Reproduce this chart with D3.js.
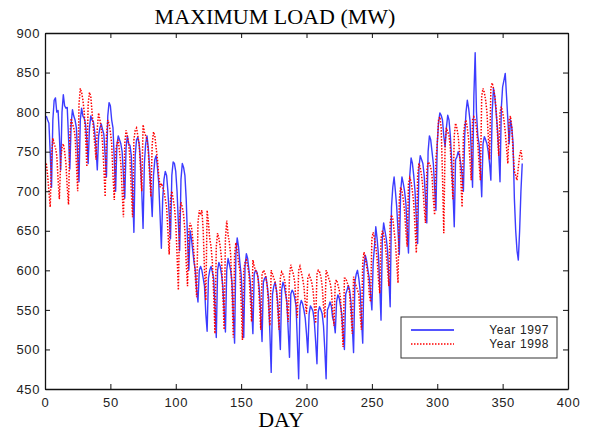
<!DOCTYPE html>
<html>
<head>
<meta charset="utf-8">
<script src="https://cdn.jsdelivr.net/npm/d3@7"></script>
<style>
  body { margin: 0; background: #fff; }
  .tick text { font-family: "Liberation Sans", Arial, sans-serif; font-size: 13px; fill: #222; letter-spacing: 0.6px; }
  .tick line, .domain { stroke: #111; }
</style>
</head>
<body>
<div id="chart"></div>
<script>
// daily maximum load (MW), day 1..365
// 1997: Jan 1 is a Wednesday -> first 5 values, then Mon..Sun weeks
const load1997 = [
  795, 790, 786, 748, 705,
  790, 815, 818, 800, 802, 770, 727,
  800, 822, 808, 805, 806, 768, 728,
  785, 803, 795, 790, 780, 745, 712,
  790, 805, 795, 792, 785, 765, 735,
  780, 795, 790, 788, 775, 755, 727,
  770, 780, 785, 778, 772, 745, 718,
  795, 812, 808, 790, 780, 740, 700,
  758, 770, 765, 760, 750, 720, 691,
  755, 770, 760, 758, 745, 700, 648,
  745, 765, 768, 760, 740, 700, 653,
  735, 760, 770, 755, 730, 700, 668,
  720, 740, 745, 730, 710, 670, 628,
  690, 715, 725, 720, 700, 670, 640,
  720, 737, 735, 725, 700, 660, 625,
  715, 735, 730, 720, 690, 640, 600,
  650, 640, 625, 610, 600, 575, 560,
  600, 605, 600, 590, 580, 545, 523,
  590, 600, 605, 598, 590, 555, 515,
  600, 610, 605, 595, 580, 550, 522,
  600, 615, 608, 600, 585, 545, 508,
  620, 641, 630, 610, 595, 560, 515,
  605, 621, 615, 600, 585, 555, 520,
  595, 600, 598, 590, 575, 545, 510,
  585, 590, 592, 580, 565, 520, 471,
  570, 580, 585, 575, 560, 530, 500,
  575, 585, 580, 570, 560, 525, 490,
  570, 575, 572, 565, 555, 510, 463,
  555, 562, 558, 550, 540, 520, 496,
  545, 555, 552, 548, 535, 510, 482,
  548, 554, 550, 545, 530, 500, 463,
  550, 554, 560, 555, 540, 535, 521,
  560, 569, 565, 555, 545, 520, 500,
  570, 575, 581, 575, 560, 530, 496,
  585, 595, 600, 590, 575, 540, 508,
  605, 619, 612, 600, 590, 570, 550,
  610, 630, 655, 640, 620, 580, 537,
  640, 660, 650, 640, 625, 590, 554,
  680, 705, 718, 700, 680, 650, 620,
  700, 718, 710, 700, 685, 650, 622,
  720, 742, 735, 720, 700, 665, 634,
  730, 745, 740, 735, 720, 690, 660,
  750, 770, 765, 750, 735, 705, 676,
  760, 787, 799, 796, 790, 770, 756,
  780, 796, 790, 770, 740, 700, 655,
  740, 743, 750, 745, 735, 720, 700,
  770, 800, 815, 805, 790, 750, 705,
  820, 875, 800, 770, 760, 730, 693,
  760, 769, 765, 760, 750, 735, 714,
  800, 830, 820, 800, 780, 750, 712,
  805, 832, 840, 849, 820, 790, 760,
  790, 781, 760, 690, 650, 625, 613,
  650, 700, 735
];

// 1998: Jan 1 is a Thursday -> first 4 values, then Mon..Sun weeks
const load1998 = [
  735, 720, 700, 680,
  745, 767, 760, 755, 745, 715, 690,
  740, 755, 760, 750, 735, 705, 683,
  770, 792, 785, 780, 770, 735, 700,
  810, 830, 825, 815, 800, 770, 731,
  810, 825, 820, 800, 780, 760, 740,
  780, 799, 790, 780, 760, 730, 693,
  770, 790, 785, 775, 760, 720, 689,
  750, 760, 765, 750, 735, 700, 667,
  760, 777, 770, 760, 740, 700, 667,
  765, 777, 780, 770, 760, 730, 700,
  784, 775, 770, 765, 750, 720, 693,
  760, 775, 770, 755, 740, 720, 705,
  710, 705, 700, 690, 680, 650, 620,
  690, 700, 690, 680, 660, 620, 575,
  670, 686, 680, 670, 650, 610, 580,
  650, 660, 655, 640, 620, 590, 566,
  660, 676, 670, 676, 650, 600, 562,
  676, 660, 640, 630, 610, 570, 520,
  630, 647, 640, 630, 615, 570, 525,
  640, 663, 645, 635, 620, 575, 515,
  620, 635, 625, 610, 600, 560, 512,
  600, 610, 613, 605, 595, 565, 535,
  613, 605, 600, 598, 590, 560, 525,
  595, 600, 598, 590, 580, 555, 530,
  600, 595, 590, 585, 575, 550, 525,
  590, 598, 595, 590, 580, 555, 535,
  594, 607, 600, 595, 585, 560, 540,
  600, 605, 598, 590, 580, 560, 545,
  590, 594, 590, 585, 575, 555, 533,
  595, 600, 598, 592, 580, 555, 540,
  600, 596, 590, 585, 575, 550, 530,
  585, 588, 582, 575, 565, 535, 503,
  590, 590, 585, 580, 570, 545, 520,
  592, 585, 580, 575, 570, 545, 525,
  610, 623, 615, 605, 595, 570, 560,
  640, 648, 640, 630, 615, 590, 571,
  640, 650, 645, 635, 620, 600, 580,
  660, 670, 665, 650, 635, 610, 584,
  690, 705, 700, 690, 675, 650, 630,
  710, 717, 712, 700, 685, 655, 622,
  720, 735, 730, 720, 705, 680, 660,
  725, 737, 735, 730, 720, 690, 670,
  740, 760, 790, 794, 780, 720, 647,
  760, 780, 775, 770, 755, 720, 690,
  770, 786, 780, 770, 750, 715, 680,
  770, 785, 790, 780, 765, 740, 714,
  790, 794, 790, 780, 760, 735, 714,
  820, 830, 825, 815, 800, 770, 740,
  830, 837, 830, 820, 805, 775, 745,
  800, 807, 800, 790, 775, 755, 735,
  790, 795, 780, 750, 725, 720, 714,
  730, 745, 752, 740
];

const xTicks = [0, 50, 100, 150, 200, 250, 300, 350, 400];
const yTicks = [450, 500, 550, 600, 650, 700, 750, 800, 850, 900];
const seriesNames = ["Year 1997", "Year 1998"];

const W = 591, H = 432;
const plot = {left: 45, right: 568, top: 33, bottom: 389};

const svg = d3.select("#chart").append("svg")
  .attr("width", W)
  .attr("height", H);

const x = d3.scaleLinear().domain([0, 400]).range([plot.left, plot.right]);
const y = d3.scaleLinear().domain([450, 900]).range([plot.bottom, plot.top]);

// lines
const line = d3.line()
  .x((d, i) => x(i + 1))
  .y(d => y(d));

svg.append("path")
  .datum(load1997)
  .attr("fill", "none")
  .attr("stroke", "#1a1aff")
  .attr("stroke-width", 1.4)
  .attr("stroke-opacity", 0.85)
  .attr("stroke-linejoin", "round")
  .attr("d", line);

svg.append("path")
  .datum(load1998)
  .attr("fill", "none")
  .attr("stroke", "#ff0000")
  .attr("stroke-width", 1.5)
  .attr("stroke-dasharray", "1.5,1.5")
  .attr("d", line);

// axes, ticks pointing inward on all four sides
svg.append("g")
  .attr("transform", `translate(0,${plot.bottom})`)
  .call(d3.axisBottom(x).tickValues(xTicks).tickSizeInner(-5).tickSizeOuter(0).tickPadding(9));
svg.append("g")
  .attr("transform", `translate(0,${plot.top})`)
  .call(d3.axisTop(x).tickValues(xTicks).tickSizeInner(-5).tickSizeOuter(0).tickFormat(""));
svg.append("g")
  .attr("transform", `translate(${plot.left},0)`)
  .call(d3.axisLeft(y).tickValues(yTicks).tickSizeInner(-5).tickSizeOuter(0).tickPadding(5));
svg.append("g")
  .attr("transform", `translate(${plot.right},0)`)
  .call(d3.axisRight(y).tickValues(yTicks).tickSizeInner(-5).tickSizeOuter(0).tickFormat(""));

svg.selectAll(".domain").attr("stroke-width", 1.3);

// titles
svg.append("text")
  .attr("x", 275).attr("y", 24)
  .attr("text-anchor", "middle")
  .style("font-family", "'Liberation Serif', 'Times New Roman', serif")
  .style("font-size", "22px")
  .text("MAXIMUM LOAD (MW)");

svg.append("text")
  .attr("x", 281).attr("y", 427)
  .attr("text-anchor", "middle")
  .style("font-family", "'Liberation Serif', 'Times New Roman', serif")
  .style("font-size", "22px")
  .text("DAY");

// legend
const lg = svg.append("g").attr("transform", "translate(401,317)");
lg.append("rect")
  .attr("width", 156).attr("height", 41)
  .attr("fill", "#fff").attr("stroke", "#333").attr("stroke-width", 1);
const legendStyles = [
  {stroke: "#1a1aff", dash: null, width: 1.4},
  {stroke: "#ff0000", dash: "1.5,1.5", width: 1.5}
];
seriesNames.forEach((name, i) => {
  const yy = 13 + i * 14;
  lg.append("line")
    .attr("x1", 10).attr("x2", 53).attr("y1", yy).attr("y2", yy)
    .attr("stroke", legendStyles[i].stroke)
    .attr("stroke-width", legendStyles[i].width)
    .attr("stroke-dasharray", legendStyles[i].dash);
  lg.append("text")
    .attr("x", 148).attr("y", yy + 4)
    .attr("text-anchor", "end")
    .style("font-family", "'Liberation Sans', Arial, sans-serif")
    .style("font-size", "12px")
    .style("letter-spacing", "0.6px")
    .style("fill", "#222")
    .text(name);
});
</script>
</body>
</html>
